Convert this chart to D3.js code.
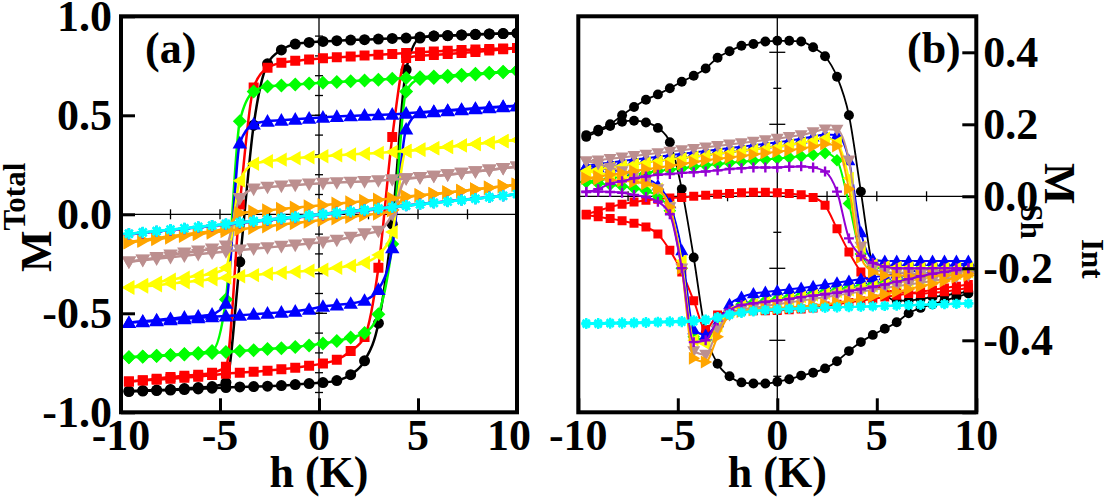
<!DOCTYPE html>
<html><head><meta charset="utf-8">
<script src="https://cdn.jsdelivr.net/npm/d3@7"></script>
<style>
body{margin:0;background:#fff}
svg{display:block}
text{font-family:"Liberation Serif","Times New Roman",serif;font-weight:bold;fill:#000}
</style></head>
<body><svg id="chart" width="1105" height="499"></svg>
<script>
// ---------- field grids ----------
const hA = [-9.6,-8.9,-8.2,-7.5,-6.8,-6.1,-5.4,-4.7,-4.0,-3.3,-2.6,-1.9,-1.2,-0.5,0.2,0.9,1.6,2.3,3.0,3.7,4.4,5.1,5.8,6.5,7.2,7.9,8.6,9.3,10.0];
const hB = [-9.6,-9.0,-8.4,-7.8,-7.2,-6.6,-6.0,-5.4,-4.8,-4.2,-3.6,-3.0,-2.4,-1.8,-1.2,-0.6,0,0.6,1.2,1.8,2.4,3.0,3.6,4.2,4.8,5.4,6.0,6.6,7.2,7.8,8.4,9.0,9.6];

// ---------- tick labels ----------
const xTickLabels = [-10,-5,0,5,10];
const yTickLabelsA = [-1.0,-0.5,0.0,0.5,1.0];
const yTickLabelsB = [-0.4,-0.2,0.0,0.2,0.4];

// ---------- panel (a): M^Total, decreasing-field and increasing-field branches ----------
const aBlackDec  = [-0.893,-0.89,-0.888,-0.885,-0.88,-0.875,-0.87,-0.85,-0.24,0.45,0.76,0.83,0.86,0.868,0.873,0.877,0.88,0.882,0.885,0.888,0.89,0.895,0.9,0.902,0.905,0.908,0.91,0.913,0.915];
const aBlackInc  = [-0.895,-0.893,-0.89,-0.888,-0.885,-0.882,-0.878,-0.875,-0.872,-0.87,-0.868,-0.865,-0.86,-0.855,-0.85,-0.84,-0.81,-0.74,-0.55,-0.05,0.73,0.89,0.9,0.903,0.906,0.909,0.911,0.913,0.915];
const aRedDec    = [-0.845,-0.838,-0.83,-0.822,-0.815,-0.81,-0.8,-0.77,0.05,0.64,0.74,0.765,0.775,0.782,0.788,0.793,0.797,0.802,0.806,0.81,0.815,0.818,0.822,0.826,0.83,0.832,0.835,0.838,0.84];
const aRedInc    = [-0.845,-0.84,-0.835,-0.83,-0.825,-0.82,-0.812,-0.805,-0.8,-0.795,-0.79,-0.783,-0.775,-0.765,-0.753,-0.735,-0.69,-0.62,-0.27,0.39,0.79,0.8,0.805,0.81,0.815,0.82,0.827,0.833,0.84];
const aGreenDec  = [-0.722,-0.718,-0.714,-0.71,-0.705,-0.7,-0.69,-0.43,0.47,0.62,0.645,0.65,0.655,0.66,0.664,0.668,0.672,0.676,0.68,0.684,0.688,0.692,0.696,0.7,0.705,0.71,0.715,0.72,0.725];
const aGreenInc  = [-0.722,-0.72,-0.716,-0.712,-0.708,-0.704,-0.7,-0.696,-0.69,-0.686,-0.68,-0.676,-0.67,-0.662,-0.652,-0.64,-0.622,-0.6,-0.505,-0.15,0.62,0.683,0.688,0.694,0.7,0.706,0.712,0.718,0.725];
const aBlueDec   = [-0.547,-0.54,-0.534,-0.527,-0.52,-0.515,-0.505,-0.45,0.36,0.455,0.47,0.475,0.48,0.485,0.49,0.494,0.497,0.5,0.502,0.505,0.51,0.515,0.52,0.525,0.53,0.535,0.54,0.545,0.548];
const aBlueInc   = [-0.547,-0.543,-0.538,-0.533,-0.528,-0.523,-0.518,-0.514,-0.51,-0.505,-0.5,-0.495,-0.49,-0.48,-0.465,-0.458,-0.45,-0.435,-0.38,-0.17,0.43,0.512,0.518,0.523,0.528,0.533,0.538,0.543,0.548];
const aYellowDec = [-0.37,-0.357,-0.345,-0.33,-0.32,-0.31,-0.3,-0.27,0.17,0.255,0.268,0.276,0.283,0.288,0.293,0.298,0.302,0.306,0.31,0.315,0.32,0.326,0.333,0.34,0.348,0.355,0.362,0.37,0.375];
const aYellowInc = [-0.37,-0.365,-0.358,-0.35,-0.343,-0.336,-0.328,-0.32,-0.313,-0.307,-0.3,-0.295,-0.29,-0.285,-0.28,-0.27,-0.26,-0.245,-0.205,-0.09,0.32,0.327,0.334,0.341,0.348,0.355,0.362,0.369,0.375];
const aBrownDec  = [-0.24,-0.23,-0.218,-0.205,-0.195,-0.185,-0.175,-0.16,0.08,0.128,0.137,0.143,0.148,0.153,0.157,0.16,0.163,0.166,0.17,0.175,0.18,0.186,0.193,0.2,0.208,0.216,0.224,0.232,0.24];
const aBrownInc  = [-0.24,-0.232,-0.225,-0.217,-0.21,-0.202,-0.195,-0.188,-0.18,-0.174,-0.168,-0.161,-0.155,-0.148,-0.14,-0.13,-0.115,-0.098,-0.085,0.0,0.18,0.186,0.193,0.2,0.208,0.216,0.224,0.232,0.24];
const aOrangeDec = [-0.14,-0.13,-0.12,-0.11,-0.102,-0.093,-0.085,-0.07,0.005,0.013,0.02,0.027,0.033,0.04,0.046,0.053,0.06,0.067,0.074,0.08,0.088,0.095,0.102,0.11,0.118,0.126,0.134,0.142,0.15];
const aOrangeInc = [-0.142,-0.134,-0.125,-0.117,-0.108,-0.1,-0.092,-0.084,-0.076,-0.068,-0.06,-0.052,-0.044,-0.036,-0.028,-0.02,-0.012,-0.004,0.004,0.02,0.09,0.096,0.103,0.11,0.118,0.126,0.134,0.142,0.15];
const aVioletDec = [-0.1,-0.093,-0.086,-0.079,-0.072,-0.065,-0.058,-0.05,-0.04,-0.033,-0.026,-0.019,-0.012,-0.005,0.002,0.01,0.017,0.024,0.031,0.038,0.045,0.052,0.059,0.066,0.073,0.08,0.087,0.094,0.101];
const aVioletInc = [-0.1,-0.094,-0.087,-0.08,-0.073,-0.066,-0.059,-0.052,-0.045,-0.038,-0.031,-0.024,-0.017,-0.01,-0.003,0.004,0.011,0.018,0.026,0.034,0.043,0.051,0.058,0.065,0.072,0.079,0.086,0.094,0.101];
const aCyanDec   = [-0.098,-0.091,-0.084,-0.077,-0.07,-0.063,-0.056,-0.048,-0.04,-0.033,-0.026,-0.019,-0.012,-0.005,0.002,0.009,0.016,0.023,0.03,0.037,0.044,0.051,0.058,0.065,0.072,0.079,0.086,0.093,0.102];
const aCyanInc   = [-0.098,-0.092,-0.085,-0.078,-0.071,-0.064,-0.057,-0.05,-0.043,-0.036,-0.029,-0.022,-0.015,-0.008,-0.001,0.006,0.013,0.02,0.028,0.035,0.043,0.05,0.057,0.064,0.071,0.078,0.086,0.094,0.102];

// ---------- panel (b): M_Sh^Int ----------
const bBlackInc  = [0.17,0.185,0.2,0.225,0.248,0.268,0.283,0.3,0.318,0.335,0.355,0.385,0.403,0.418,0.423,0.43,0.432,0.432,0.43,0.414,0.389,0.332,0.225,0.013,-0.2,-0.27,-0.29,-0.29,-0.285,-0.28,-0.275,-0.27,-0.265];
const bBlackDec  = [0.165,0.18,0.195,0.207,0.21,0.205,0.19,0.15,0.02,-0.17,-0.38,-0.465,-0.5,-0.517,-0.52,-0.52,-0.515,-0.508,-0.498,-0.49,-0.478,-0.458,-0.43,-0.405,-0.385,-0.368,-0.35,-0.325,-0.31,-0.3,-0.29,-0.28,-0.27];
const bRedInc    = [-0.05,-0.04,-0.03,-0.022,-0.016,-0.011,-0.008,-0.005,-0.003,0.0,0.003,0.006,0.008,0.01,0.011,0.011,0.01,0.008,0.004,-0.003,-0.025,-0.09,-0.155,-0.21,-0.245,-0.26,-0.265,-0.268,-0.27,-0.268,-0.265,-0.26,-0.255];
const bRedDec    = [-0.052,-0.057,-0.062,-0.068,-0.075,-0.085,-0.105,-0.15,-0.21,-0.29,-0.37,-0.33,-0.32,-0.318,-0.318,-0.318,-0.317,-0.315,-0.313,-0.31,-0.305,-0.3,-0.295,-0.29,-0.285,-0.28,-0.275,-0.27,-0.265,-0.26,-0.255,-0.25,-0.245];
const bGreenInc  = [0.04,0.045,0.05,0.055,0.06,0.065,0.07,0.074,0.078,0.082,0.086,0.09,0.093,0.096,0.099,0.102,0.105,0.108,0.111,0.115,0.12,0.1,-0.02,-0.16,-0.195,-0.2,-0.2,-0.2,-0.2,-0.2,-0.2,-0.2,-0.2];
const bGreenDec  = [0.04,0.036,0.032,0.028,0.022,0.015,0.0,-0.04,-0.2,-0.39,-0.4,-0.36,-0.32,-0.3,-0.295,-0.29,-0.285,-0.28,-0.275,-0.27,-0.265,-0.26,-0.255,-0.25,-0.245,-0.24,-0.235,-0.23,-0.225,-0.22,-0.215,-0.21,-0.205];
const bBlueInc   = [0.085,0.09,0.094,0.098,0.102,0.106,0.11,0.114,0.118,0.122,0.126,0.13,0.134,0.138,0.142,0.146,0.15,0.155,0.16,0.166,0.172,0.17,0.1,-0.1,-0.175,-0.18,-0.18,-0.18,-0.18,-0.18,-0.18,-0.18,-0.18];
const bBlueDec   = [0.085,0.08,0.074,0.068,0.06,0.05,0.03,-0.02,-0.15,-0.37,-0.385,-0.35,-0.3,-0.28,-0.27,-0.266,-0.262,-0.258,-0.255,-0.25,-0.245,-0.24,-0.235,-0.23,-0.225,-0.22,-0.215,-0.21,-0.205,-0.2,-0.195,-0.19,-0.185];
const bYellowInc = [0.07,0.075,0.08,0.085,0.09,0.094,0.098,0.102,0.106,0.11,0.114,0.118,0.122,0.126,0.13,0.134,0.138,0.143,0.148,0.155,0.162,0.15,0.05,-0.14,-0.19,-0.195,-0.197,-0.198,-0.2,-0.2,-0.2,-0.2,-0.2];
const bYellowDec = [0.07,0.065,0.06,0.056,0.05,0.04,0.02,-0.03,-0.18,-0.4,-0.41,-0.36,-0.32,-0.305,-0.3,-0.295,-0.29,-0.285,-0.28,-0.275,-0.27,-0.265,-0.26,-0.255,-0.25,-0.245,-0.24,-0.235,-0.23,-0.225,-0.22,-0.215,-0.21];
const bBrownInc  = [0.097,0.1,0.104,0.108,0.112,0.116,0.12,0.124,0.128,0.132,0.136,0.14,0.144,0.148,0.152,0.156,0.16,0.165,0.17,0.178,0.186,0.185,0.1,-0.14,-0.2,-0.21,-0.212,-0.214,-0.216,-0.218,-0.22,-0.22,-0.22];
const bBrownDec  = [0.097,0.09,0.08,0.07,0.06,0.045,0.02,-0.03,-0.2,-0.43,-0.44,-0.37,-0.33,-0.315,-0.31,-0.305,-0.3,-0.295,-0.29,-0.285,-0.28,-0.275,-0.27,-0.265,-0.26,-0.255,-0.25,-0.245,-0.24,-0.235,-0.23,-0.225,-0.22];
const bOrangeInc = [0.05,0.055,0.06,0.065,0.07,0.075,0.08,0.085,0.09,0.095,0.1,0.104,0.108,0.112,0.116,0.12,0.124,0.128,0.133,0.138,0.145,0.14,0.02,-0.17,-0.21,-0.22,-0.22,-0.22,-0.22,-0.22,-0.22,-0.22,-0.22];
const bOrangeDec = [0.05,0.048,0.045,0.043,0.04,0.035,0.02,-0.03,-0.2,-0.45,-0.46,-0.39,-0.33,-0.32,-0.315,-0.312,-0.31,-0.308,-0.306,-0.303,-0.3,-0.295,-0.29,-0.284,-0.278,-0.272,-0.265,-0.258,-0.25,-0.243,-0.235,-0.225,-0.215];
const bVioletInc = [0.012,0.02,0.035,0.042,0.05,0.055,0.06,0.062,0.065,0.067,0.069,0.072,0.076,0.078,0.08,0.08,0.08,0.082,0.083,0.08,0.069,0.013,-0.117,-0.165,-0.185,-0.195,-0.2,-0.2,-0.2,-0.2,-0.2,-0.2,-0.2];
const bVioletDec = [0.013,0.013,0.012,0.01,0.004,-0.002,-0.015,-0.05,-0.2,-0.405,-0.4,-0.345,-0.315,-0.302,-0.297,-0.293,-0.289,-0.285,-0.28,-0.276,-0.272,-0.268,-0.263,-0.258,-0.252,-0.245,-0.237,-0.23,-0.222,-0.215,-0.21,-0.205,-0.2];
const bCyanInc   = [-0.355,-0.355,-0.354,-0.354,-0.353,-0.352,-0.351,-0.35,-0.35,-0.348,-0.345,-0.335,-0.327,-0.322,-0.318,-0.315,-0.313,-0.312,-0.311,-0.31,-0.309,-0.308,-0.307,-0.306,-0.305,-0.304,-0.303,-0.302,-0.301,-0.3,-0.299,-0.298,-0.297];
const bCyanDec   = [-0.352,-0.352,-0.351,-0.35,-0.35,-0.349,-0.348,-0.347,-0.346,-0.344,-0.342,-0.338,-0.33,-0.324,-0.32,-0.317,-0.315,-0.313,-0.312,-0.311,-0.31,-0.309,-0.308,-0.307,-0.306,-0.305,-0.304,-0.303,-0.302,-0.301,-0.3,-0.299,-0.298];

// ---------- series styles (Grace palette) ----------
const seriesColors  = ["#000000","#ff0000","#00ff00","#0000ff","#ffff00","#bc8f8f","#ffa500","#9400d3","#00ffff"];
const seriesSymbols = ["circle","square","diamond","triUp","triLeft","triDown","triRight","plus","star"];
const panelAData = [[aBlackDec,aBlackInc],[aRedDec,aRedInc],[aGreenDec,aGreenInc],[aBlueDec,aBlueInc],[aYellowDec,aYellowInc],[aBrownDec,aBrownInc],[aOrangeDec,aOrangeInc],[aVioletDec,aVioletInc],[aCyanDec,aCyanInc]];
const panelBData = [[bBlackDec,bBlackInc],[bRedDec,bRedInc],[bGreenDec,bGreenInc],[bBlueDec,bBlueInc],[bYellowDec,bYellowInc],[bBrownDec,bBrownInc],[bOrangeDec,bOrangeInc],[bVioletDec,bVioletInc],[bCyanDec,bCyanInc]];

const svg = d3.select("#chart");
const FS = 44;
const fmt = v => String(v).replace("\u2212","-");
const fmt1 = v => d3.format(".1f")(v).replace("\u2212","-");

function symbolPath(type, k) {
  const r = 5.5*k, s = 5*k, d = 7*k, t = 7.2*k;
  switch (type) {
    case "circle": return `M${-r},0a${r},${r} 0 1,0 ${2*r},0a${r},${r} 0 1,0 ${-2*r},0Z`;
    case "square": return `M${-s},${-s}h${2*s}v${2*s}h${-2*s}Z`;
    case "diamond": return `M0,${-d}L${d},0L0,${d}L${-d},0Z`;
    case "triUp": return `M0,${-t}L${t},${t*0.75}L${-t},${t*0.75}Z`;
    case "triDown": return `M0,${t}L${t},${-t*0.75}L${-t},${-t*0.75}Z`;
    case "triLeft": return `M${-t},0L${t*0.75},${-t}L${t*0.75},${t}Z`;
    case "triRight": return `M${t},0L${-t*0.75},${-t}L${-t*0.75},${t}Z`;
    case "plus": return `M${-r},0H${r}M0,${-r}V${r}`;
    case "star": return `M${-r},0H${r}M0,${-r}V${r}M${-r*0.7},${-r*0.7}L${r*0.7},${r*0.7}M${-r*0.7},${r*0.7}L${r*0.7},${-r*0.7}`;
  }
}

function drawPanel(opt) {
  const {x0, x1, y0, y1, yDomain, grid, data, yMajor, yMinor, side, label, lw, mk, id, xLabelShift} = opt;
  const x = d3.scaleLinear().domain([-10,10]).range([x0,x1]);
  const y = d3.scaleLinear().domain(yDomain).range([y1,y0]);
  const g = svg.append("g");

  g.append("clipPath").attr("id","clip"+id).append("rect")
    .attr("x",x0).attr("y",y0).attr("width",x1-x0).attr("height",y1-y0);

  // zero lines with their small ticks
  const zl = g.append("g").attr("stroke","#000").attr("stroke-width",1.3);
  zl.append("line").attr("x1",x0).attr("x2",x1).attr("y1",y(0)).attr("y2",y(0));
  zl.append("line").attr("x1",x(0)).attr("x2",x(0)).attr("y1",y0).attr("y2",y1);
  [-7.5,-5,-2.5,2.5,5,7.5].forEach(v => zl.append("line").attr("x1",x(v)).attr("x2",x(v)).attr("y1",y(0)-5).attr("y2",y(0)+5));
  yMinor.forEach(v => { if (Math.abs(v) > 1e-9) zl.append("line").attr("x1",x(0)-4).attr("x2",x(0)+4).attr("y1",y(v)).attr("y2",y(v)); });
  yMajor.forEach(v => { if (Math.abs(v) > 1e-9) zl.append("line").attr("x1",x(0)-8).attr("x2",x(0)+8).attr("y1",y(v)).attr("y2",y(v)); });

  // series
  const plot = g.append("g").attr("clip-path",`url(#clip${id})`);
  const line = d3.line().x(p => x(p[0])).y(p => y(p[1])).curve(d3.curveMonotoneX);
  data.forEach((branches, si) => {
    const col = seriesColors[si], sym = seriesSymbols[si];
    const sg = plot.append("g");
    branches.forEach(vals => {
      const pts = grid.map((h,i) => [h, vals[i]]);
      sg.append("path").attr("d", line(pts)).attr("fill","none").attr("stroke",col)
        .attr("stroke-width", si === 0 ? lw[0] : lw[1]).attr("stroke-linejoin","round");
      const isLine = (sym === "plus" || sym === "star");
      sg.selectAll(null).data(pts).join("path")
        .attr("transform", p => `translate(${x(p[0])},${y(p[1])})`)
        .attr("d", symbolPath(sym, mk))
        .attr("fill", isLine ? "none" : col)
        .attr("stroke", isLine ? col : "none")
        .attr("stroke-width", isLine ? 2.4 : 0);
    });
  });

  // axes (ticks inward)
  const xMajor = xTickLabels, xMinor = d3.range(-9,10,1).filter(v => v % 5 !== 0);
  const axB = g.append("g").attr("transform",`translate(0,${y1})`);
  axB.call(d3.axisBottom(x).tickValues(xMinor).tickSize(-7).tickFormat(""));
  axB.call(d3.axisBottom(x).tickValues(xMajor).tickSize(-14).tickFormat(""));
  axB.select(".domain").remove();
  axB.selectAll(".tick line").attr("stroke","#000").attr("stroke-width",3);

  const yAxisFn = side === "left" ? d3.axisLeft : d3.axisRight;
  const ax = side === "left" ? x0 : x1;
  const axY = g.append("g").attr("transform",`translate(${ax},0)`);
  axY.call(yAxisFn(y).tickValues(yMinor).tickSize(-8).tickFormat(""));
  axY.call(yAxisFn(y).tickValues(yMajor).tickSize(-14).tickFormat(""));
  axY.selectAll(".domain").remove();
  axY.selectAll(".tick line").attr("stroke","#000").attr("stroke-width",3);

  // frame
  g.append("rect").attr("x",x0).attr("y",y0).attr("width",x1-x0).attr("height",y1-y0)
    .attr("fill","none").attr("stroke","#000").attr("stroke-width",4);

  // tick labels
  g.append("g").selectAll("text").data(xMajor).join("text")
    .attr("x", v => x(v) + (v === 10 ? xLabelShift : 0)).attr("y", 450).attr("text-anchor","middle")
    .attr("font-size",FS).text(fmt);
  const ylab = side === "left" ? yTickLabelsA : yTickLabelsB;
  g.append("g").selectAll("text").data(ylab).join("text")
    .attr("x", side === "left" ? x0 - 9 : x1 + 7)
    .attr("y", v => y(v) + 15)
    .attr("text-anchor", side === "left" ? "end" : "start")
    .attr("font-size",FS).text(fmt1);

  // x axis title
  g.append("text").attr("x", x(0)).attr("y", 487).attr("text-anchor","middle")
    .attr("font-size",FS).text("h (K)");
  // panel label
  g.append("text").attr("x", label.x).attr("y", 63).attr("font-size",FS).text(label.t);
  return {x, y};
}

drawPanel({id:"a", x0:121, x1:517, y0:16.3, y1:412.3, yDomain:[-1,1], grid:hA, data:panelAData,
  yMajor:[-1,-0.5,0,0.5,1], yMinor:d3.range(-0.9,1.0,0.1).map(v=>+v.toFixed(1)),
  side:"left", label:{x:145,t:"(a)"}, lw:[2.5,2.5], mk:1.0, xLabelShift:-8});
drawPanel({id:"b", x0:578.3, x1:976.3, y0:16.3, y1:412.3, yDomain:[-0.6,0.5], grid:hB, data:panelBData,
  yMajor:[-0.6,-0.4,-0.2,0,0.2,0.4], yMinor:[-0.5,-0.3,-0.1,0.1,0.3,0.5],
  side:"right", label:{x:907,t:"(b)"}, lw:[1.8,2], mk:0.9, xLabelShift:0});

// y axis titles
const tA = svg.append("text").attr("transform","translate(51,272) rotate(-90)").attr("font-size",FS);
tA.append("tspan").text("M");
tA.append("tspan").attr("font-size",31).attr("dy",-26).text("Total");

const tB = svg.append("text").attr("transform","translate(1045,163) rotate(90)").attr("font-size",FS);
tB.append("tspan").text("M");
tB.append("tspan").attr("font-size",31).attr("dy",24).text("Sh");
tB.append("tspan").attr("font-size",31).attr("dy",-61).text("Int");
</script>
</body></html>
